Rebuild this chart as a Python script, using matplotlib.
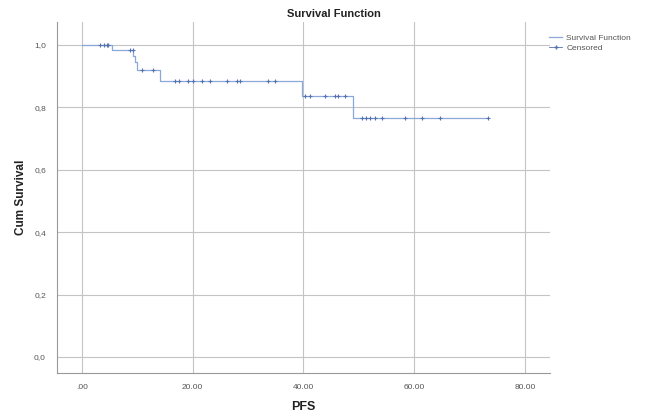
import numpy as np
import matplotlib.pyplot as plt
from matplotlib.lines import Line2D

plt.rcParams['font.family'] = ['Liberation Sans', 'DejaVu Sans']

# Kaplan-Meier steps (PFS, cumulative survival)
event_times = [0.0, 5.4, 9.3, 9.6, 9.9, 14.1, 39.7, 48.9]
surv_after = [1.0, 0.983, 0.965, 0.945, 0.92, 0.885, 0.836, 0.766]
last_time = 73.3

censored = [3.3, 3.9, 4.5, 4.7, 8.7, 9.2, 10.8, 12.8,
            16.8, 17.6, 19.1, 20.0, 21.7, 23.1, 26.2, 28.0, 28.5, 33.6, 34.8,
            40.3, 41.2, 43.9, 45.7, 46.2, 47.5,
            50.5, 51.3, 52.0, 52.9, 54.2, 58.3, 61.4, 64.6, 73.3]

xticks = [0, 20, 40, 60, 80]
xlabels = [".00", "20.00", "40.00", "60.00", "80.00"]
yticks = [0.0, 0.2, 0.4, 0.6, 0.8, 1.0]
ylabels = ["0,0", "0,2", "0,4", "0,6", "0,8", "1,0"]

line_col = '#8aa8d8'
cens_col = '#5573b0'
grid_col = '#c4c4c4'
text_col = '#555555'

fig = plt.figure(figsize=(6.67, 4.2), dpi=100)
ax = fig.add_axes([0.0855, 0.112, 0.739, 0.836])

xs = event_times + [last_time]
ys = surv_after + [surv_after[-1]]
ax.step(xs, ys, where='post', color=line_col, lw=0.9)

# censored marks sit on the curve level at their time
idx = np.searchsorted(event_times, censored, side='right') - 1
cens_y = np.array(surv_after)[idx]
ax.plot(censored, cens_y, ls='none', marker='+', ms=3.5, mew=0.8, color=cens_col)

ax.set_xlim(-4.5, 84.5)
ax.set_ylim(-0.051, 1.074)
ax.set_xticks(xticks)
ax.set_xticklabels(xlabels)
ax.set_yticks(yticks)
ax.set_yticklabels(ylabels)
ax.tick_params(length=0, labelsize=6, labelcolor=text_col, pad=8)
ax.grid(True, color=grid_col, lw=0.8)
ax.set_axisbelow(True)
for s in ['top', 'right']:
    ax.spines[s].set_visible(False)
for s in ['left', 'bottom']:
    ax.spines[s].set_color('#999999')
    ax.spines[s].set_linewidth(0.8)

ax.set_xlabel("PFS", fontsize=9, fontweight='bold', color='#222222', labelpad=7)
ax.set_ylabel("Cum Survival", fontsize=8.5, fontweight='bold', color='#222222', labelpad=5)
fig.text(0.5, 0.967, "Survival Function", ha='center', va='center',
         fontsize=8, fontweight='bold', color='#222222')

handles = [Line2D([], [], color=line_col, lw=0.9),
           Line2D([], [], color=cens_col, ls='-', lw=0.6, marker='+', ms=3.5)]
fig.legend(handles, ["Survival Function", "Censored"], loc='upper left',
           bbox_to_anchor=(0.818, 0.927), frameon=False, fontsize=6,
           labelcolor=text_col, handlelength=1.6, handletextpad=0.5,
           labelspacing=0.3, borderaxespad=0)

fig.savefig("out.png", dpi=100)
